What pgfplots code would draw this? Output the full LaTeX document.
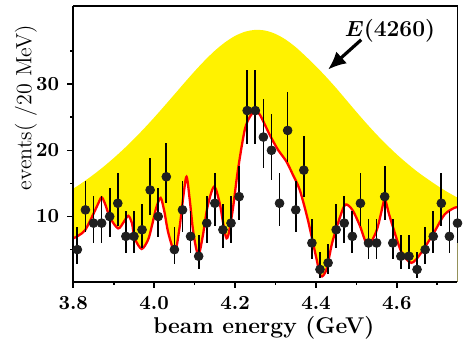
\documentclass[border=0pt]{standalone}
\usepackage{pgfplots}
\pgfplotsset{compat=1.18}
\usepackage{pgfplotstable}
\usepackage{bm}
\usetikzlibrary{arrows.meta}

\pgfplotstableread{
x y ep em
3.81 5 3.38 2.16
3.83 11 4.42 3.27
3.85 9 4.11 2.94
3.87 9 4.11 2.94
3.89 10 4.27 3.11
3.91 12 4.56 3.42
3.93 7 3.77 2.58
3.95 7 3.77 2.58
3.97 8 3.95 2.77
3.99 14 4.83 3.70
4.01 10 4.27 3.11
4.03 16 5.08 3.95
4.05 5 3.38 2.16
4.07 11 4.42 3.27
4.09 7 3.77 2.58
4.11 4 3.16 1.91
4.13 9 4.11 2.94
4.15 12 4.56 3.42
4.17 8 3.95 2.77
4.19 9 4.11 2.94
4.21 13 4.70 3.56
4.23 26 6.12 4.99
4.25 26 6.12 4.99
4.27 22 5.74 4.62
4.29 20 5.54 4.42
4.31 12 4.56 3.42
4.33 23 5.84 4.72
4.35 11 4.42 3.27
4.37 17 5.20 4.07
4.39 6 3.58 2.38
4.41 2 2.64 1.29
4.43 3 2.92 1.63
4.45 8 3.95 2.77
4.47 9 4.11 2.94
4.49 7 3.77 2.58
4.51 12 4.56 3.42
4.53 6 3.58 2.38
4.55 6 3.58 2.38
4.57 13 4.70 3.56
4.59 6 3.58 2.38
4.61 4 3.16 1.91
4.63 4 3.16 1.91
4.65 2 2.64 1.29
4.67 5 3.38 2.16
4.69 7 3.77 2.58
4.71 12 4.56 3.42
4.73 7 3.77 2.58
4.75 9 4.11 2.94
}\data

\pgfplotstableread{
x y
3.800 14.20
3.825 15.22
3.850 16.33
3.875 17.53
3.900 18.83
3.925 20.22
3.950 21.71
3.975 23.29
4.000 24.95
4.025 26.68
4.050 28.44
4.075 30.21
4.100 31.94
4.125 33.57
4.150 35.05
4.175 36.30
4.200 37.28
4.225 37.92
4.250 38.19
4.275 38.08
4.300 37.58
4.325 36.73
4.350 35.58
4.375 34.18
4.400 32.70
4.425 31.10
4.450 29.40
4.475 27.60
4.500 25.80
4.525 24.05
4.550 22.38
4.575 20.83
4.600 19.37
4.625 18.04
4.650 16.80
4.675 15.70
4.700 14.66
4.725 13.70
4.750 12.85
}\yellowcurve

\pgfplotstableread{
x y
3.800 6.7
3.815 7.2
3.830 8.0
3.849 10.3
3.862 12.0
3.870 12.9
3.878 12.0
3.891 9.8
3.911 8.2
3.925 9.2
3.936 10.1
3.945 9.0
3.952 6.7
3.969 5.1
3.985 6.5
3.994 8.5
4.005 11.3
4.016 12.8
4.025 10.8
4.035 7.5
4.051 4.7
4.062 8.0
4.072 13.0
4.080 16.0
4.088 12.5
4.097 7.5
4.109 4.2
4.120 7.0
4.132 11.5
4.148 14.5
4.162 12.0
4.179 6.7
4.193 10.5
4.207 17.0
4.224 23.1
4.238 25.2
4.250 25.9
4.262 25.3
4.286 22.3
4.306 20.1
4.327 18.3
4.343 16.3
4.360 14.0
4.380 9.5
4.400 4.0
4.412 1.0
4.426 2.0
4.440 6.0
4.460 10.0
4.473 11.8
4.490 11.0
4.508 8.7
4.528 5.7
4.549 7.7
4.561 10.5
4.570 12.6
4.580 10.5
4.590 8.5
4.611 4.7
4.636 3.0
4.660 4.5
4.693 7.7
4.718 10.3
4.742 11.3
4.750 11.4
}\redcurve

\begin{document}
\begin{tikzpicture}
\path (-36.65pt,-30.65pt) (196.35pt,140.85pt);
\begin{axis}[
  scale only axis,
  width=192.1pt, height=137.85pt,
  xmin=3.8, xmax=4.75,
  ymin=0.15, ymax=41.8,
  clip=false,
  axis line style={line width=0.6pt},
  xtick={3.8,4.0,4.2,4.4,4.6},
  minor xtick={3.9,4.1,4.3,4.5,4.7},
  ytick={10,20,30},
  minor ytick={5,15,25,35},
  tick align=outside,
  xtick pos=bottom, ytick pos=left,
  major tick length=3pt, minor tick length=1.6pt,
  tick style={line width=0.8pt, black},
  ticklabel style={font=\fontsize{10}{12}\selectfont\bfseries},
  /pgf/number format/assume math mode=true,
  xticklabel style={/pgf/number format/fixed, /pgf/number format/fixed zerofill, /pgf/number format/precision=1, yshift=-1pt},
  yticklabel style={xshift=-0.5pt},
  xlabel={\bfseries beam energy (GeV)},
  xlabel style={font=\fontsize{11.4}{13}\selectfont, at={(axis description cs:0.496,0)}, anchor=base, yshift=-25.8pt},
  ylabel={events( /20 MeV)},
  ylabel style={font=\fontsize{11}{13}\selectfont, at={(axis description cs:0,0.632)}, anchor=base, yshift=21pt},
]
\addplot[fill=yellow, draw=none, smooth] table {\yellowcurve} \closedcycle;
\addplot[fill=white, draw=none, smooth] table {\redcurve} \closedcycle;
\addplot[red, line width=1.15pt, smooth] table {\redcurve};
\addplot[only marks, mark=*, mark size=2.2pt, color=black!88,
  error bars/.cd, y dir=both, y explicit,
  error bar style={line width=0.85pt, black}, error mark=none]
  table[x=x, y=y, y error plus=ep, y error minus=em] {\data};
\draw[line width=1.1pt] (rel axis cs:0,1) -- (rel axis cs:0,0) -- (rel axis cs:1,0);
\draw[line width=1.6pt, -{Latex[length=9pt,width=8pt]}] (axis cs:4.512,36.7) -- (axis cs:4.43,32.2);
\node[font=\fontsize{11.4}{13}\selectfont\bfseries] at (axis cs:4.583,38.1) {$\bm{E}$(4260)};
\end{axis}
\end{tikzpicture}
\end{document}
